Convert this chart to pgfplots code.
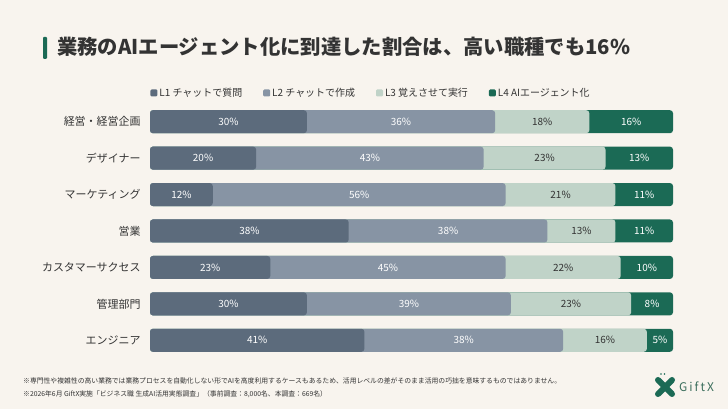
\documentclass[border=0pt]{standalone}
\usepackage{fontspec}
\setmainfont{Noto Sans CJK JP}
\usepackage{pgfplots}
\usepackage{pgfplotstable}
\pgfplotsset{compat=1.18}
\definecolor{bg}{HTML}{F8F4EE}
\definecolor{cA}{HTML}{5C6B7C}
\definecolor{cB}{HTML}{8794A4}
\definecolor{cC}{HTML}{C0D3C8}
\definecolor{cD}{HTML}{1B6A55}
\definecolor{txt}{HTML}{333333}
\definecolor{logo}{HTML}{3B6E5C}

\pgfplotstableread{
row a b c d la lb lc ld
0 30 36 18 16 30 36 18 16
1 20.3 43.5 23.3 12.9 20 43 23 13
2 12 56 21 11 12 56 21 11
3 38 38 13 11 38 38 13 11
4 23 45 22 10 23 45 22 10
5 30 39 23 8 30 39 23 8
6 41 38 16 5 41 38 16 5
}\data

\begin{document}
\begin{tikzpicture}
\useasboundingbox (0,0) rectangle (728bp,409bp);
\fill[bg] (0,0) rectangle (728bp,409bp);
% title
\fill[cD, rounded corners=1bp] (43bp,350bp) rectangle (47bp,372bp);
\node[anchor=west, inner sep=0pt, text=txt, font=\fontsize{20.4}{24}\selectfont\bfseries] at (57bp,362bp) {業務のAIエージェント化に到達した割合は、高い職種でも16\%};

\begin{axis}[
  at={(150bp,305.5bp)}, anchor=north west,
  scale only axis, width=523bp, height=255bp,
  xmin=0, xmax=100, ymin=-0.5, ymax=6.5, y dir=reverse,
  hide x axis,
  axis line style={draw=none},
  y axis line style={draw=none},
  ytick style={draw=none}, major tick length=0pt,
  ytick={0,...,6},
  yticklabels={経営・経営企画, デザイナー, マーケティング, 営業, カスタマーサクセス, 管理部門, エンジニア},
  yticklabel style={font=\fontsize{11}{13}\selectfont, text=txt, xshift=-6bp},
  clip=false,
  legend style={at={(0.4226,1.0412)}, anchor=center, draw=none, fill=none,
    font=\fontsize{10}{12}\selectfont, text=txt, inner sep=0pt,
    /tikz/every even column/.append style={column sep=19bp}},
  legend columns=4,
  legend image code/.code={\fill[#1, rounded corners=1.2bp] (0bp,-3.5bp) rectangle (7bp,3.5bp);},
]
\addlegendimage{fill=cA, draw=none}
\addlegendentry{L1 チャットで質問}
\addlegendimage{fill=cB, draw=none}
\addlegendentry{L2 チャットで作成}
\addlegendimage{fill=cC, draw=none}
\addlegendentry{L3 覚えさせて実行}
\addlegendimage{fill=cD, draw=none}
\addlegendentry{L4 AIエージェント化}

\addplot[xbar, bar shift=0pt, bar width=23bp, fill=cD, draw=none, rounded corners=3bp, forget plot]
  table[y=row, x expr=\thisrow{a}+\thisrow{b}+\thisrow{c}+\thisrow{d}] {\data};
\addplot[xbar, bar shift=0pt, bar width=23bp, fill=cC, draw=none, rounded corners=3bp, forget plot]
  table[y=row, x expr=\thisrow{a}+\thisrow{b}+\thisrow{c}] {\data};
\addplot[xbar, bar shift=0pt, bar width=23bp, fill=cB, draw=none, rounded corners=3bp, forget plot]
  table[y=row, x expr=\thisrow{a}+\thisrow{b}] {\data};
\addplot[xbar, bar shift=0pt, bar width=23bp, fill=cA, draw=none, rounded corners=3bp, forget plot]
  table[y=row, x=a] {\data};

\addplot[draw=none, mark=none, forget plot, point meta=explicit symbolic,
  nodes near coords={\pgfplotspointmeta\%},
  nodes near coords style={anchor=center, font=\fontsize{10}{12}\selectfont, text=white}]
  table[y=row, x expr=\thisrow{a}/2, meta=la] {\data};
\addplot[draw=none, mark=none, forget plot, point meta=explicit symbolic,
  nodes near coords={\pgfplotspointmeta\%},
  nodes near coords style={anchor=center, font=\fontsize{10}{12}\selectfont, text=white}]
  table[y=row, x expr=\thisrow{a}+\thisrow{b}/2, meta=lb] {\data};
\addplot[draw=none, mark=none, forget plot, point meta=explicit symbolic,
  nodes near coords={\pgfplotspointmeta\%},
  nodes near coords style={anchor=center, font=\fontsize{10}{12}\selectfont, text=txt}]
  table[y=row, x expr=\thisrow{a}+\thisrow{b}+\thisrow{c}/2, meta=lc] {\data};
\addplot[draw=none, mark=none, forget plot, point meta=explicit symbolic,
  nodes near coords={\pgfplotspointmeta\%},
  nodes near coords style={anchor=center, font=\fontsize{10}{12}\selectfont, text=white}]
  table[y=row, x expr=\thisrow{a}+\thisrow{b}+\thisrow{c}+\thisrow{d}/2, meta=ld] {\data};
\end{axis}

% footnotes
\node[anchor=west, inner sep=0pt, text=txt, font=\fontsize{6.85}{8}\selectfont] at (23bp,28bp) {※専門性や複雑性の高い業務では業務プロセスを自動化しない形でAIを高度利用するケースもあるため、活用レベルの差がそのまま活用の巧拙を意味するものではありません。};
\node[anchor=west, inner sep=0pt, text=txt, font=\fontsize{6.85}{8}\selectfont] at (23bp,15bp) {※2026年6月 GiftX実施「ビジネス職 生成AI活用実態調査」（事前調査：8,000名、本調査：669名）};

% logo
\draw[cD, line width=6bp, line cap=round] (658bp,15bp) -- (672bp,29bp);
\draw[cD, line width=6bp, line cap=round] (658bp,29bp) -- (672bp,15bp);
\fill[cD] (661bp,35bp) circle (0.9bp);
\fill[cD] (664.5bp,35bp) circle (0.9bp);
\node[anchor=west, inner sep=0pt, text=logo, font=\fontsize{12}{14}\selectfont] at (679bp,22bp) {G\,i\,f\,t\,X};
\end{tikzpicture}
\end{document}
